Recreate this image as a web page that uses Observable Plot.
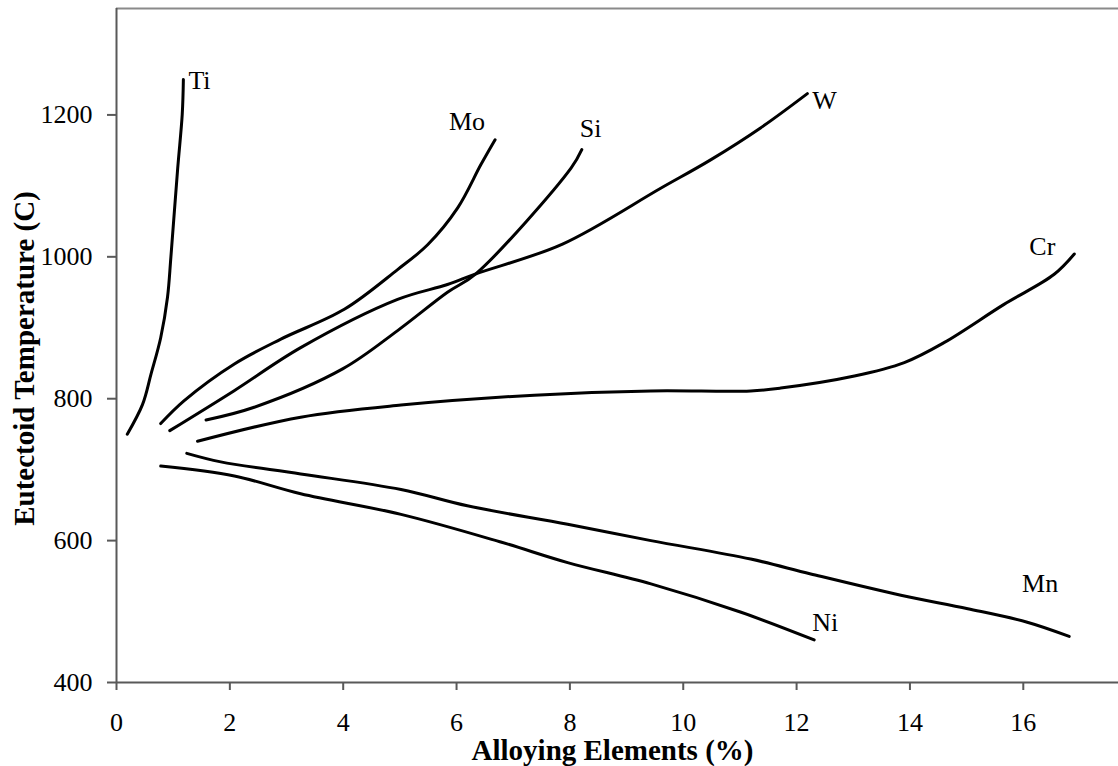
<!DOCTYPE html>
<html>
<head>
<meta charset="utf-8">
<script src="https://cdn.jsdelivr.net/npm/d3@7"></script>
<script src="https://cdn.jsdelivr.net/npm/@observablehq/plot@0.6"></script>
<style>
  html, body { margin: 0; padding: 0; background: #fff; }
  #chart svg { display: block; }
</style>
</head>
<body>
<div id="chart"></div>
<script>
// ---- Data ----
const elements = ["Ti", "Mo", "Si", "W", "Cr", "Mn", "Ni"];

const tiX = [0.19, 0.46, 0.61, 0.78, 0.90, 0.96, 1.08, 1.16, 1.18];
const tiY = [750, 792, 835, 886, 943, 1000, 1125, 1201, 1250];

const moX = [0.78, 1.19, 2.08, 2.90, 4.02, 4.96, 5.49, 6.02, 6.43, 6.68];
const moY = [765, 797, 849, 884, 926, 982, 1017, 1069, 1130, 1165];

const siX = [1.58, 2.43, 3.99, 4.96, 5.84, 6.34, 8.02, 8.21];
const siY = [770, 788, 842, 896, 950, 976, 1125, 1151];

const wX = [0.94, 2.07, 3.25, 4.96, 5.84, 6.34, 7.87, 9.61, 10.49, 11.37, 12.19];
const wY = [755, 811, 872, 940, 961, 976, 1018, 1097, 1137, 1182, 1230];

const crX = [1.43, 3.25, 5.02, 7.37, 9.43, 11.19, 11.72, 13.02, 13.90, 14.60, 15.66, 16.54, 16.90];
const crY = [740, 774, 791, 805, 811, 811, 815, 832, 851, 879, 933, 975, 1004];

const mnX = [1.24, 1.84, 3.25, 5.02, 6.19, 7.96, 9.43, 11.19, 12.25, 13.84, 15.02, 16.07, 16.81];
const mnY = [723, 711, 694, 672, 649, 623, 600, 574, 553, 523, 504, 485, 465];

const niX = [0.78, 2.08, 3.25, 5.02, 6.78, 7.96, 9.43, 11.02, 12.31];
const niY = [705, 691, 666, 637, 598, 569, 539, 499, 460];

const xTicks = [0, 2, 4, 6, 8, 10, 12, 14, 16];
const yTicks = [400, 600, 800, 1000, 1200];
const xDomain = [0, 17.68];
const yDomain = [400, 1350];

const xTitle = "Alloying Elements (%)";
const yTitle = "Eutectoid Temperature (C)";

// ---- Build tables ----
const seriesX = [tiX, moX, siX, wX, crX, mnX, niX];
const seriesY = [tiY, moY, siY, wY, crY, mnY, niY];
const rows = elements.flatMap((name, k) =>
  seriesX[k].map((x, i) => ({element: name, pct: x, temp: seriesY[k][i]})));
const ends = elements.map((name, k) => ({
  element: name,
  pct: seriesX[k][seriesX[k].length - 1],
  temp: seriesY[k][seriesY[k].length - 1]
}));

// label placement relative to each curve's end (style only)
const labelStyle = {
  Ti: {dx: 5, dy: 1, anchor: "start"},
  Mo: {dx: -10, dy: -18, anchor: "end"},
  Si: {dx: -2, dy: -21, anchor: "start"},
  W:  {dx: 5, dy: 7, anchor: "start"},
  Cr: {dx: -19, dy: -7, anchor: "end"},
  Mn: {dx: -11, dy: -53, anchor: "end"},
  Ni: {dx: -2, dy: -17, anchor: "start"}
};

const font = '"Liberation Serif", "Times New Roman", Times, serif';
const axisColor = "#595959";

const chart = Plot.plot({
  width: 1118,
  height: 766,
  marginLeft: 116,
  marginRight: 0,
  marginTop: 8,
  marginBottom: 84,
  style: {fontFamily: font, fontSize: "26px", color: "#000", background: "#fff"},
  x: {domain: xDomain},
  y: {domain: yDomain},
  marks: [
    Plot.ruleY([yDomain[1]], {stroke: "#8a8a8a", strokeWidth: 2}),
    Plot.ruleX([xDomain[0]], {stroke: axisColor, strokeWidth: 2}),
    Plot.ruleY([yDomain[0]], {stroke: axisColor, strokeWidth: 2}),
    Plot.axisX({ticks: xTicks, tickFormat: d => `${d}`, tickSize: 8, tickPadding: 22, label: null,
      stroke: axisColor, strokeWidth: 2, fontSize: 26, fill: "#000"}),
    Plot.axisY({ticks: yTicks, tickFormat: d => `${d}`, tickSize: 9, tickPadding: 15, label: null,
      stroke: axisColor, strokeWidth: 2, fontSize: 26, fill: "#000"}),
    Plot.line(rows, {x: "pct", y: "temp", z: "element", curve: "catmull-rom",
      stroke: "#000", strokeWidth: 3, strokeLinecap: "round", strokeLinejoin: "round"}),
    ...ends.map(e => Plot.text([e], {
      x: "pct", y: "temp", text: "element",
      dx: labelStyle[e.element].dx, dy: labelStyle[e.element].dy,
      textAnchor: labelStyle[e.element].anchor, lineAnchor: "middle",
      fontSize: 26, fill: "#000"
    })),
    Plot.text([xTitle], {text: d => d, frameAnchor: "bottom", dx: -5, dy: 68,
      textAnchor: "middle", lineAnchor: "middle", fontSize: 29, fontWeight: "bold", fill: "#000"}),
    Plot.text([yTitle], {text: d => d, frameAnchor: "left", rotate: -90, dx: -92, dy: 13,
      textAnchor: "middle", lineAnchor: "middle", fontSize: 29, fontWeight: "bold", fill: "#000"})
  ]
});

document.getElementById("chart").appendChild(chart);
</script>
</body>
</html>
